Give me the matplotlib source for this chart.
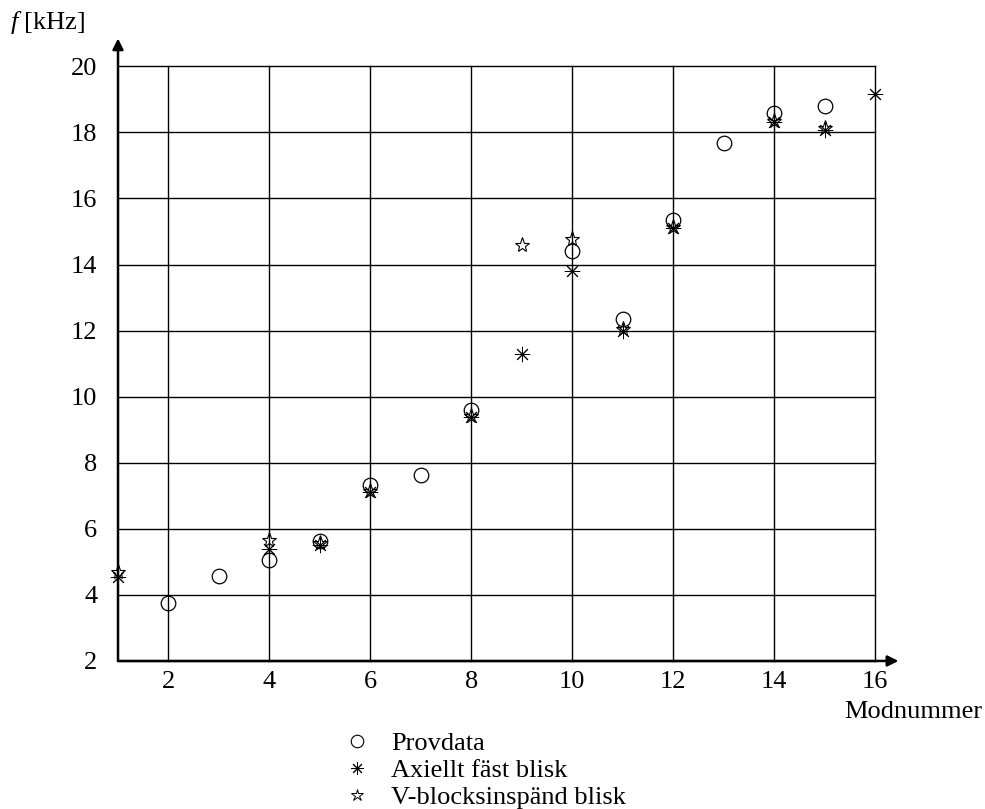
import numpy as np
import matplotlib.pyplot as plt
from matplotlib.lines import Line2D

plt.rcParams['font.family'] = 'Liberation Serif'
plt.rcParams['mathtext.fontset'] = 'custom'
plt.rcParams['mathtext.it'] = 'Liberation Serif:italic'
plt.rcParams['mathtext.rm'] = 'Liberation Serif'

# data
prov_x = [2, 3, 4, 5, 6, 7, 8, 10, 11, 12, 13, 14, 15]
prov_y = [3.74, 4.58, 5.05, 5.64, 7.32, 7.63, 9.6, 14.4, 12.35, 15.36, 17.67, 18.59, 18.79]

axi_x = [1, 4, 5, 6, 8, 9, 10, 11, 12, 14, 15, 16]
axi_y = [4.55, 5.38, 5.5, 7.1, 9.38, 11.3, 13.8, 12.0, 15.1, 18.3, 18.08, 19.17]

vblock_x = [1, 4, 5, 6, 8, 9, 10, 11, 12, 14, 15]
vblock_y = [4.7, 5.66, 5.56, 7.14, 9.42, 14.6, 14.76, 12.05, 15.14, 18.35, 18.12]

xticks = [2, 4, 6, 8, 10, 12, 14, 16]
yticks = [2, 4, 6, 8, 10, 12, 14, 16, 18, 20]

fig = plt.figure(figsize=(9.85, 8.09), dpi=100)
ax = fig.add_axes([0.1198, 0.183, 0.7685, 0.735])

asterisk = (8, 2, 0)
ax.plot(prov_x, prov_y, 'o', ms=10.5, mfc='none', mec='black', mew=0.9, clip_on=False)
ax.plot(axi_x, axi_y, ls='none', marker=asterisk, ms=11, mec='black', mew=0.7, clip_on=False)
ax.plot(vblock_x, vblock_y, '*', ms=11, mfc='none', mec='black', mew=0.8, clip_on=False)

ax.set_xlim(1, 16)
ax.set_ylim(2, 20)
ax.set_xticks(xticks)
ax.set_yticks(yticks)
ax.tick_params(length=0, labelsize=19)
ax.tick_params(axis='x', pad=7)
ax.tick_params(axis='y', pad=15)
ax.grid(True, color='black', lw=1.0)
for gl in ax.get_xgridlines() + ax.get_ygridlines():
    gl.set_clip_on(False)

for s in ax.spines.values():
    s.set_visible(False)

# axis arrows
arrow = dict(arrowstyle='-|>', lw=1.8, color='black', mutation_scale=16, shrinkA=0, shrinkB=0)
ax.annotate('', xy=(0, 1.047), xytext=(0, 0), xycoords='axes fraction', arrowprops=arrow, annotation_clip=False)
ax.annotate('', xy=(1.031, 0), xytext=(0, 0), xycoords='axes fraction', arrowprops=arrow, annotation_clip=False)

fig.text(0.01, 0.972, r'$\mathit{f}\,\,$[kHz]', fontsize=19, va='center')
fig.text(0.997, 0.12, 'Modnummer', fontsize=19, ha='right', va='center')

handles = [
    Line2D([], [], ls='none', marker='o', ms=9, mfc='none', mec='black', mew=0.8),
    Line2D([], [], ls='none', marker=asterisk, ms=9, mec='black', mew=0.7),
    Line2D([], [], ls='none', marker='*', ms=9, mfc='none', mec='black', mew=0.7),
]
labels = ['Provdata', 'Axiellt fäst blisk', 'V-blocksinspänd blisk']
fig.legend(handles, labels, loc='upper left', bbox_to_anchor=(0.349, 0.096),
           frameon=False, fontsize=19, handlelength=1.0, handletextpad=0.79,
           labelspacing=0.14, borderpad=0, borderaxespad=0)

fig.savefig('out.png', dpi=100)
